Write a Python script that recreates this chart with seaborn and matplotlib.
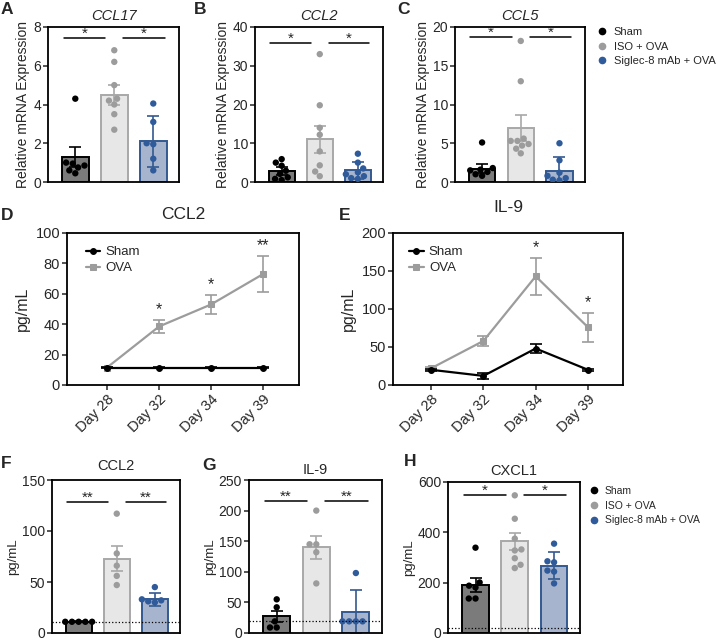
import numpy as np
import pandas as pd
import matplotlib
matplotlib.use("Agg")
import matplotlib.pyplot as plt
import seaborn as sns
from matplotlib.lines import Line2D

sns.set_style("ticks")
plt.rcParams['font.family'] = ['Liberation Sans', 'DejaVu Sans']

groups = ["Sham", "ISO + OVA", "Siglec-8 mAb + OVA"]
fills = ["#7b7b7b", "#e7e7e7", "#9fb2d5"]
edges = ["#000000", "#a8a8a8", "#33598f"]
dots = ["#000000", "#9c9c9c", "#2f5b9b"]

# A  CCL17 (relative mRNA)
ccl17_pts = [[4.3, 1.0, 0.95, 0.85, 0.75, 0.6, 0.45],
             [6.8, 6.2, 5.0, 4.3, 4.2, 4.0, 3.5, 2.7],
             [4.05, 3.1, 2.0, 1.95, 1.2, 0.6]]
ccl17_mean = [1.3, 4.5, 2.1]
ccl17_err = [0.5, 0.5, 1.3]

# B  CCL2 (relative mRNA)
ccl2m_pts = [[5.9, 5.0, 4.2, 2.9, 2.1, 1.2, 0.8, 0.5],
             [33, 19.8, 14, 12.2, 7.9, 4.3, 2.7, 1.5],
             [7.3, 5.0, 3.5, 2.5, 2.0, 1.5, 1.0, 0.8]]
ccl2m_mean = [2.8, 11.0, 3.0]
ccl2m_err = [1.0, 3.5, 2.2]

# C  CCL5 (relative mRNA)
ccl5_pts = [[5.1, 1.8, 1.6, 1.5, 1.3, 1.0, 0.8],
            [18.2, 13.0, 5.6, 5.3, 5.3, 4.9, 4.7, 4.3, 3.7],
            [5.0, 2.8, 1.2, 0.8, 0.5, 0.3, 0.2]]
ccl5_mean = [1.7, 7.0, 1.4]
ccl5_err = [0.6, 1.7, 1.8]

# D / E  time course
days = ["Day 28", "Day 32", "Day 34", "Day 39"]
d_sham = [11.5, 11.5, 11.5, 11.5]
d_sham_err = [0.3, 0.3, 0.3, 0.3]
d_ova = [11.5, 38.5, 53, 73]
d_ova_err = [0.5, 4.5, 6, 12]
d_stars = ["", "*", "*", "**"]
e_sham = [20, 12, 48, 20]
e_sham_err = [1, 4, 6, 1]
e_ova = [22, 58, 143, 76]
e_ova_err = [2, 7, 24, 19]
e_stars = ["", "", "*", "*"]

# F  CCL2 protein
ccl2_pts = [[11, 11, 11, 11, 11],
            [117, 78, 66, 56, 47],
            [45, 33, 32, 31, 30]]
ccl2_mean = [11, 73, 33]
ccl2_err = [0.3, 12.5, 6.5]

# G  IL-9 protein
il9_pts = [[55, 42, 19, 9, 9],
           [200, 145, 145, 132, 81],
           [98, 19, 19, 19, 19]]
il9_mean = [27, 140, 35]
il9_err = [9.5, 19, 36]

# H  CXCL1 protein
cxcl1_pts = [[339, 201, 188, 181, 137, 137],
             [547, 454, 375, 332, 328, 297, 271, 258],
             [355, 285, 281, 248, 244, 197]]
cxcl1_mean = [191, 364, 268]
cxcl1_err = [27, 35, 55]

W, H = 717, 640
fig = plt.figure(figsize=(W / 100, H / 100), dpi=100)


def box(x0, x1, y0, y1):
    return fig.add_axes([x0 / W, 1 - y1 / H, (x1 - x0) / W, (y1 - y0) / H])


def style(ax, fs):
    for s in ax.spines.values():
        s.set_linewidth(1.3)
        s.set_color("black")
    ax.tick_params(axis="both", labelsize=fs, length=3.5, width=1.1, pad=1.5)


def bar_panel(ax, pts, means, errs, top, yticks, sig_y, star, ylab, yfs, title, italic, tpad, dotted=None):
    sns.barplot(x=groups, y=means, hue=groups, palette=fills, order=groups,
                width=0.68, linewidth=1.4, ax=ax, legend=False, zorder=1)
    for p, ec in zip(ax.patches, edges):
        p.set_edgecolor(ec)
    for i in range(3):
        ax.errorbar(i, means[i], yerr=errs[i], fmt="none", ecolor=edges[i],
                    elinewidth=1.2, capsize=4, capthick=1.2, zorder=2.5)
    df = pd.DataFrame({"grp": np.repeat(groups, [len(p) for p in pts]),
                       "val": np.concatenate(pts)})
    sns.swarmplot(data=df, x="grp", y="val", hue="grp", palette=dots, order=groups,
                  hue_order=groups, size=4.6, ax=ax, legend=False, zorder=4)
    for a, b in [(-0.3, 0.77), (1.23, 2.3)]:
        ax.plot([a, b], [sig_y, sig_y], color="black", lw=1.1)
        ax.annotate(star, ((a + b) / 2, sig_y), xytext=(0, -2), textcoords="offset points",
                    ha="center", va="bottom", fontsize=11)
    ax.set_xlim(-0.7, 2.66)
    ax.set_ylim(0, top)
    ax.set_yticks(yticks)
    ax.set_xticks([])
    ax.set_xlabel("")
    ax.set_ylabel(ylab, fontsize=yfs, labelpad=2)
    ax.set_title(title, fontsize=10.5, style="italic" if italic else "normal", pad=tpad)
    style(ax, 10)


rel = "Relative mRNA Expression"
axA = box(48, 179, 27, 182)
bar_panel(axA, ccl17_pts, ccl17_mean, ccl17_err, 8, [0, 2, 4, 6, 8], 7.45, "*", rel, 10, "CCL17", True, 5)
axB = box(255, 383, 27, 182)
bar_panel(axB, ccl2m_pts, ccl2m_mean, ccl2m_err, 40, [0, 10, 20, 30, 40], 35.8, "*", rel, 10, "CCL2", True, 5)
axC = box(455, 585, 27, 182)
bar_panel(axC, ccl5_pts, ccl5_mean, ccl5_err, 20, [0, 5, 10, 15, 20], 18.7, "*", rel, 10, "CCL5", True, 5)

axF = box(52, 180, 480, 633)
bar_panel(axF, ccl2_pts, ccl2_mean, ccl2_err, 150, [0, 50, 100, 150], 128, "**", "pg/mL", 9.5, "CCL2", False, 7)
axF.axhline(11, ls=":", lw=0.9, color="black", zorder=5)
axG = box(249, 382, 480, 633)
bar_panel(axG, il9_pts, il9_mean, il9_err, 250, [0, 50, 100, 150, 200, 250], 216, "**", "pg/mL", 9.5, "IL-9", False, 4)
axG.axhline(19, ls=":", lw=0.9, color="black", zorder=5)
axH = box(448, 580, 482, 633)
bar_panel(axH, cxcl1_pts, cxcl1_mean, cxcl1_err, 600, [0, 200, 400, 600], 550, "*", "pg/mL", 9.5, "CXCL1", False, 5)
axH.axhline(20, ls=":", lw=0.9, color="black", zorder=5)


def line_panel(ax, sham, sham_e, ova, ova_e, stars, top, yticks, title, tpad, xl, lx):
    pos = np.arange(len(days))
    ax.errorbar(pos, ova, yerr=ova_e, fmt="none", ecolor="#9c9c9c", elinewidth=1.2,
                capsize=4, capthick=1.2, zorder=2)
    ax.errorbar(pos, sham, yerr=sham_e, fmt="none", ecolor="black", elinewidth=1.2,
                capsize=4, capthick=1.2, zorder=3)
    sns.lineplot(x=pos, y=ova, color="#9c9c9c", marker="s", markersize=4.2, lw=1.6,
                 markeredgecolor="#9c9c9c", ax=ax, label="OVA", zorder=2)
    sns.lineplot(x=pos, y=sham, color="black", marker="o", markersize=4.2, lw=1.6,
                 markeredgecolor="black", ax=ax, label="Sham", zorder=3)
    for i, s in enumerate(stars):
        if s:
            ax.annotate(s, (pos[i], ova[i] + ova_e[i]), xytext=(0, 2), textcoords="offset points",
                        ha="center", va="bottom", fontsize=11.5)
    h, l = ax.get_legend_handles_labels()
    ax.legend(h[::-1], l[::-1], loc="upper left", frameon=False, fontsize=9.5,
              handlelength=1.1, handletextpad=0.4, labelspacing=0.3,
              borderpad=0, borderaxespad=0, bbox_to_anchor=(lx, 0.915))
    ax.set_xlim(*xl)
    ax.set_ylim(0, top)
    ax.set_yticks(yticks)
    ax.set_xticks(pos)
    ax.set_xticklabels(days, rotation=45, ha="right", rotation_mode="anchor")
    ax.set_ylabel("pg/mL", fontsize=11.5, labelpad=4)
    ax.set_title(title, fontsize=12.5, pad=tpad)
    style(ax, 10.5)


axD = box(67, 299, 233, 385)
line_panel(axD, d_sham, d_sham_err, d_ova, d_ova_err, d_stars, 100, [0, 20, 40, 60, 80, 100],
           "CCL2", 10, (-0.77, 3.69), 0.08)
axE = box(393, 623, 233, 385)
line_panel(axE, e_sham, e_sham_err, e_ova, e_ova_err, e_stars, 200, [0, 50, 100, 150, 200],
           "IL-9", 15, (-0.73, 3.67), 0.07)

handles = [Line2D([], [], marker="o", ls="", color=c, markersize=4.5) for c in dots]
fig.legend(handles, groups, loc="upper left", bbox_to_anchor=(598 / W, 1 - 27 / H),
           frameon=False, fontsize=8, handlelength=0.8, handletextpad=0.6, labelspacing=0.42,
           borderpad=0, borderaxespad=0)
fig.legend(handles, groups, loc="upper left", bbox_to_anchor=(590 / W, 1 - 486 / H),
           frameon=False, fontsize=7.5, handlelength=0.8, handletextpad=0.6, labelspacing=0.45,
           borderpad=0, borderaxespad=0)

for lab, x, y in [("A", 1, 9), ("B", 194, 9), ("C", 397, 9), ("D", 1, 216),
                  ("E", 339, 216), ("F", 1, 463), ("G", 202, 465), ("H", 404, 461)]:
    fig.text(x / W, 1 - y / H, lab, fontsize=12.5, fontweight="bold", va="center")

fig.savefig("out.png", dpi=100)
